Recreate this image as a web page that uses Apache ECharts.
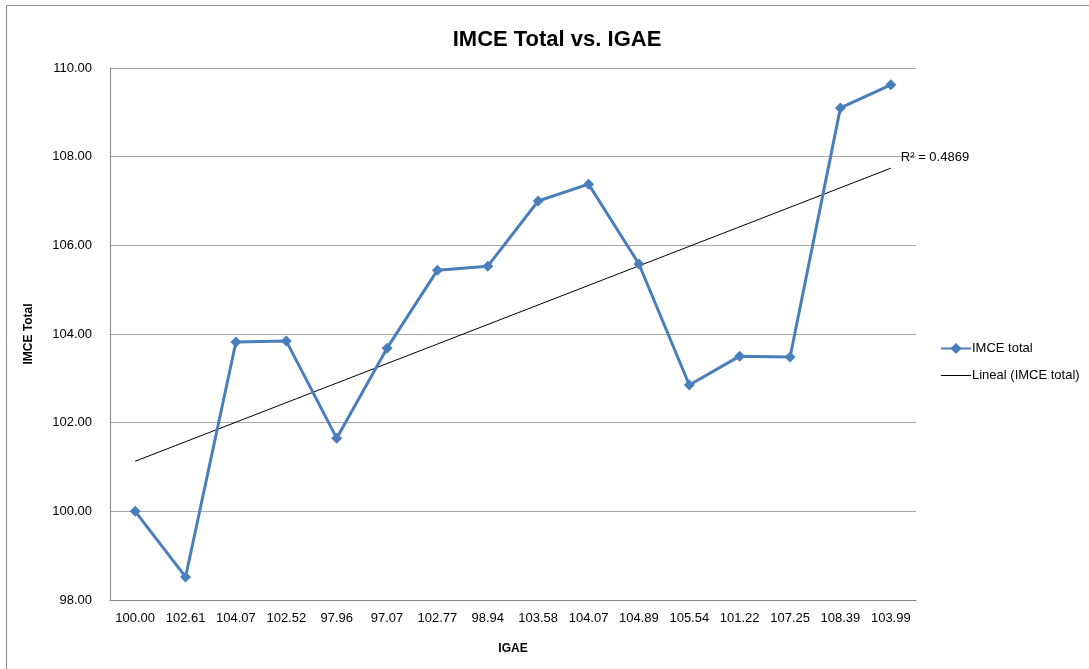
<!DOCTYPE html>
<html>
<head>
<meta charset="utf-8">
<script src="https://cdn.jsdelivr.net/npm/echarts@6/dist/echarts.min.js"></script>
<style>
html,body{margin:0;padding:0;background:#fff;}
#chart{width:1089px;height:669px;}
</style>
</head>
<body>
<div id="chart"></div>
<script>
const categories = ['100.00','102.61','104.07','102.52','97.96','97.07','102.77','98.94','103.58','104.07','104.89','105.54','101.22','107.25','108.39','103.99'];
const imceTotal = [100.00, 98.52, 103.82, 103.84, 101.65, 103.68, 105.44, 105.53, 107.00, 107.38, 105.58, 102.85, 103.50, 103.48, 109.10, 109.62];
const trendStart = 101.13;
const trendEnd = 107.74;
const r2Label = 'R² = 0.4869';
const yMin = 98, yMax = 110, yStep = 2;

const trendData = categories.map((c, i) => i === 0 ? trendStart : (i === categories.length - 1 ? trendEnd : null));

const font = 'Liberation Sans, Arial, sans-serif';
const chart = echarts.init(document.getElementById('chart'), null, {renderer: 'canvas'});
chart.setOption({
  animation: false,
  backgroundColor: '#fff',
  textStyle: {fontFamily: font},
  title: {
    text: 'IMCE Total vs. IGAE',
    left: 552, top: 24, textAlign: 'center',
    textStyle: {fontSize: 22, fontWeight: 'bold', color: '#000', fontFamily: font}
  },
  graphic: [{
    type: 'rect', silent: true, z: -1,
    shape: {x: 6.5, y: 5.5, width: 1200, height: 800},
    style: {fill: 'none', stroke: '#8c8c8c', lineWidth: 1}
  }],
  grid: {left: 110, right: 173, top: 68, bottom: 69, containLabel: false},
  legend: {
    orient: 'vertical', left: 940, top: 342, padding: 0, itemGap: 14, itemWidth: 30, itemHeight: 14,
    textStyle: {fontSize: 13, color: '#000', fontFamily: font, padding: [0,0,0,-4]},
    data: [
      {name: 'IMCE total'},
      {name: 'Lineal (IMCE total)', icon: 'path://M0,0 L30,0 L30,1 L0,1 Z'}
    ]
  },
  xAxis: {
    type: 'category', data: categories, boundaryGap: true,
    name: 'IGAE', nameLocation: 'middle', nameGap: 43,
    nameTextStyle: {fontSize: 12, fontWeight: 'bold', color: '#000', fontFamily: font},
    axisLine: {lineStyle: {color: '#868686', width: 1}},
    axisTick: {show: false},
    axisLabel: {fontSize: 13, color: '#000', margin: 12, interval: 0, fontFamily: font},
    splitLine: {show: false}
  },
  yAxis: {
    type: 'value', min: yMin, max: yMax, interval: yStep,
    name: 'IMCE Total', nameLocation: 'middle', nameGap: 75, nameRotate: 90,
    nameTextStyle: {fontSize: 12, fontWeight: 'bold', color: '#000', fontFamily: font},
    axisLine: {show: true, lineStyle: {color: '#868686', width: 1}},
    axisTick: {show: false},
    axisLabel: {fontSize: 13, color: '#000', margin: 18, formatter: v => v.toFixed(2), fontFamily: font},
    splitLine: {lineStyle: {color: '#a6a6a6', width: 1}}
  },
  series: [
    {
      name: 'IMCE total', type: 'line', data: imceTotal,
      symbol: 'diamond', symbolSize: 11,
      lineStyle: {color: '#4a7ebb', width: 3},
      itemStyle: {color: '#4a7ebb'},
      z: 3
    },
    {
      name: 'Lineal (IMCE total)', type: 'line', data: trendData, connectNulls: true,
      symbol: 'none',
      lineStyle: {color: '#000', width: 1},
      itemStyle: {color: '#000'},
      z: 2,
      markPoint: {
        symbol: 'circle', symbolSize: 0,
        data: [{coord: [categories.length - 1, trendEnd], value: r2Label}],
        label: {show: true, position: 'right', offset: [5, -11], formatter: r2Label, color: '#000', fontSize: 13, fontFamily: font}
      }
    }
  ]
});
</script>
</body>
</html>
